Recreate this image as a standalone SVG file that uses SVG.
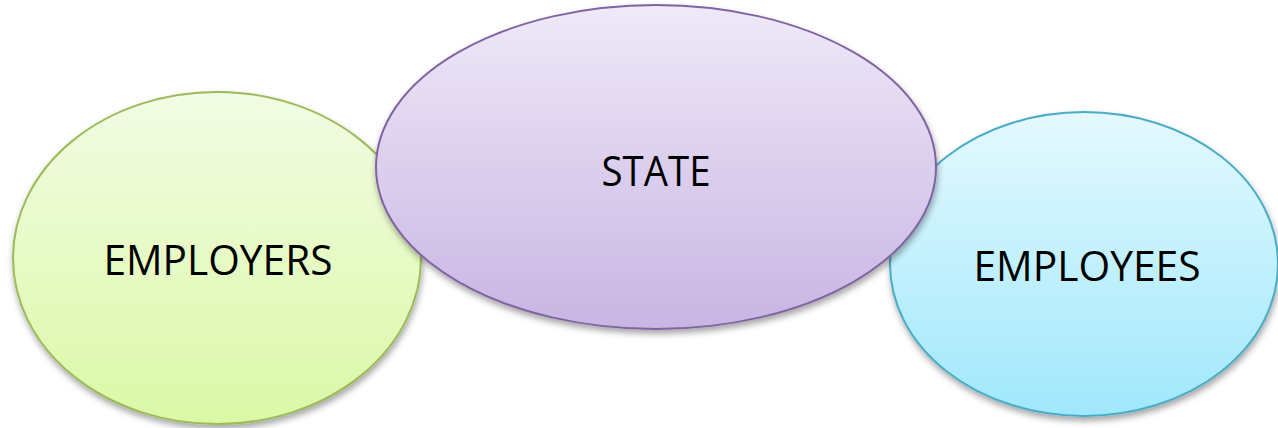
<svg xmlns="http://www.w3.org/2000/svg" width="1278" height="428" viewBox="0 0 1278 428">
<style>
.lbl{font-family:"Open Sans","Liberation Sans",sans-serif;font-size:42px;fill:#000;text-anchor:middle}
.node{stroke-width:2}
</style>
<defs>
<linearGradient id="gG" x1="0" y1="0" x2="0" y2="1"><stop offset="0" stop-color="#f2fce4"/><stop offset="1" stop-color="#dbf8a6"/></linearGradient>
<linearGradient id="gP" x1="0" y1="0" x2="0" y2="1"><stop offset="0" stop-color="#efe9f8"/><stop offset="1" stop-color="#c8b5e3"/></linearGradient>
<linearGradient id="gB" x1="0" y1="0" x2="0" y2="1"><stop offset="0" stop-color="#e4f9fe"/><stop offset="1" stop-color="#a0e8fc"/></linearGradient>
<filter id="sh" x="-10%" y="-10%" width="120%" height="125%"><feDropShadow dx="1" dy="4" stdDeviation="3" flood-color="#000" flood-opacity="0.35"/></filter>
</defs>
<g id="employers">
<ellipse class="node" cx="217" cy="258" rx="204" ry="166" fill="url(#gG)" stroke="#9bbb59" filter="url(#sh)"/>
<text class="lbl" x="218" y="275" textLength="229" lengthAdjust="spacingAndGlyphs">EMPLOYERS</text>
</g>
<g id="employees">
<ellipse class="node" cx="1084" cy="264" rx="194" ry="152" fill="url(#gB)" stroke="#4bacc6" filter="url(#sh)"/>
<text class="lbl" x="1087" y="281" textLength="227" lengthAdjust="spacingAndGlyphs">EMPLOYEES</text>
</g>
<g id="state">
<ellipse class="node" cx="656" cy="167" rx="280" ry="162" fill="url(#gP)" stroke="#8064a2" filter="url(#sh)"/>
<text class="lbl" x="656" y="186" textLength="109" lengthAdjust="spacingAndGlyphs">STATE</text>
</g>
<g id="connectors"/>
</svg>
